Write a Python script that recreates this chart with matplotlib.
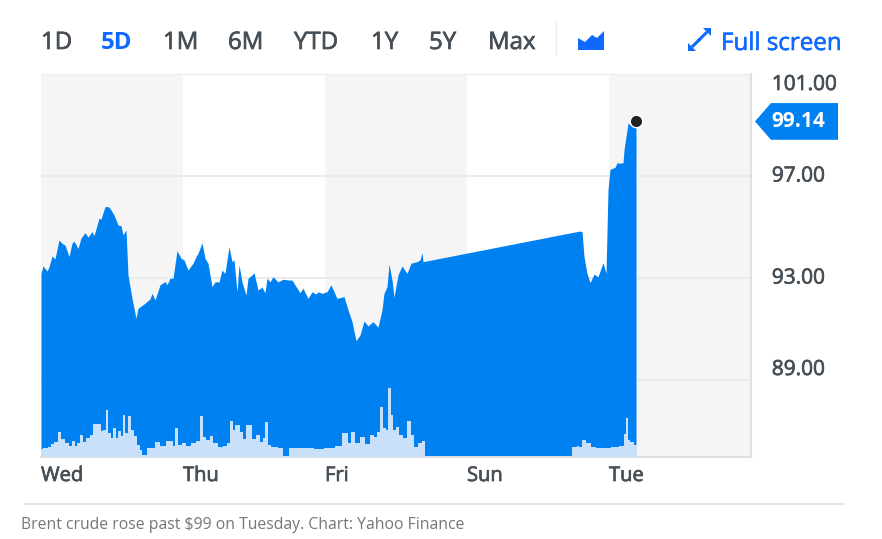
import matplotlib
matplotlib.use("Agg")
import matplotlib.pyplot as plt
import matplotlib.patheffects as pe
from matplotlib.patches import Polygon
from matplotlib.lines import Line2D
from matplotlib.transforms import blended_transform_factory

plt.rcParams["font.family"] = ["Open Sans", "DejaVu Sans"]

# x is a bar index, 142 bars per session
times = [0, 2, 6, 8, 11, 14, 18, 21, 24, 28, 31, 33, 37, 40, 44, 47, 51, 53, 58, 60,
         64, 67, 69, 73, 77, 80, 82, 85, 87, 91, 95, 97, 104, 109, 111, 114, 119, 124, 126, 129,
         132, 136, 140, 143, 147, 152, 155, 157, 161, 164, 167, 171, 174, 178, 181, 184, 188, 191, 193, 196,
         198, 201, 205, 207, 211, 213, 217, 221, 224, 226, 229, 232, 237, 242, 248, 251, 254, 259, 262, 267,
         271, 275, 277, 281, 286, 290, 296, 303, 307, 311, 315, 319, 323, 327, 332, 337, 341, 343, 346, 348,
         351, 353, 357, 361, 366, 370, 376, 379, 381, 382, 519, 532, 539, 541, 543, 546, 549, 553, 557, 562,
         565, 567, 569, 574, 576, 579, 582, 583, 587, 590, 595]
prices = [93.18, 93.48, 93.27, 93.44, 93.86, 93.75, 94.49, 94.36, 94.29, 93.84, 94.36, 94.45, 94.16, 94.56, 94.78, 94.60, 94.82, 94.66, 95.34, 95.31,
          95.80, 95.80, 95.73, 95.47, 95.08, 95.05, 94.69, 94.88, 93.12, 92.20, 91.42, 91.81, 92.01, 92.18, 92.40, 92.14, 92.73, 92.86, 92.73, 92.99,
          92.99, 94.07, 93.77, 93.71, 93.31, 93.58, 93.84, 93.97, 94.38, 93.77, 93.58, 92.66, 92.85, 92.85, 93.31, 93.18, 94.23, 93.64, 93.71, 92.46,
          93.51, 92.85, 92.33, 92.99, 93.12, 93.21, 92.53, 92.64, 92.42, 92.99, 92.85, 93.05, 92.85, 92.95, 92.92, 92.92, 92.73, 92.42, 92.60, 92.20,
          92.46, 92.37, 92.46, 92.40, 92.46, 92.73, 92.20, 92.27, 91.75, 91.29, 90.54, 90.76, 91.31, 91.12, 91.29, 91.07, 91.75, 92.40, 92.66, 93.55,
          92.92, 92.24, 93.12, 93.47, 93.18, 93.58, 93.64, 93.71, 93.99, 93.64, 94.69, 94.79, 94.84, 94.82, 93.84, 93.18, 92.82, 93.15, 93.05, 93.60,
          93.18, 96.45, 97.26, 97.34, 97.52, 97.50, 97.52, 98.02, 99.07, 99.00, 99.14]

# volume in thousand lots
vol_times = [0, 4, 9, 11, 15, 18, 21, 26, 29, 32, 35, 37, 41, 43, 47, 51, 53, 58, 61, 63,
             66, 68, 71, 73, 76, 78, 81, 83, 85, 88, 91, 94, 98, 100, 101, 105, 106, 111, 116, 122,
             128, 131, 133, 135, 138, 143, 147, 152, 157, 161, 163, 167, 170, 174, 179, 184, 187, 190, 193, 194,
             197, 200, 203, 206, 210, 212, 217, 221, 222, 226, 228, 232, 241, 242, 247, 248, 259, 269, 277, 289,
             299, 302, 306, 308, 312, 316, 321, 326, 331, 335, 337, 341, 343, 346, 348, 351, 353, 356, 359, 364,
             368, 371, 374, 379, 383, 384, 530, 531, 534, 537, 539, 543, 547, 552, 557, 566, 574, 581, 584, 586,
             587, 591, 595, 596]
volumes = [0.8, 0.9, 1.0, 1.3, 1.5, 2.5, 1.8, 1.4, 1.1, 1.6, 1.1, 1.4, 2.2, 1.5, 1.9, 2.2, 3.3, 3.3, 2.6, 2.7,
           4.7, 2.4, 1.9, 2.9, 1.9, 2.6, 2.1, 4.2, 2.4, 4.1, 2.7, 2.1, 1.2, 0.7, 0.15, 0.15, 0.9, 0.9, 1.5, 1.1,
           1.6, 1.6, 1.1, 2.9, 1.2, 1.4, 1.1, 1.4, 1.6, 4.1, 2.0, 1.7, 2.1, 1.4, 1.0, 1.1, 1.4, 3.6, 2.7, 3.2,
           3.2, 2.5, 1.8, 3.2, 3.2, 1.8, 2.2, 1.5, 1.9, 3.5, 1.2, 1.0, 0.9, 0.05, 0.05, 0.9, 0.9, 0.9, 0.8, 0.9,
           1.1, 2.4, 2.4, 1.4, 2.5, 1.4, 2.0, 1.3, 2.2, 2.0, 2.5, 5.0, 2.9, 2.7, 6.9, 4.2, 2.7, 3.0, 2.2, 1.9,
           3.6, 2.2, 1.0, 1.4, 1.6, 0, 0, 1.0, 1.0, 1.1, 1.0, 1.7, 1.4, 1.0, 0.9, 0.9, 1.0, 1.1, 2.3, 3.9,
           1.7, 1.5, 1.2, 0]

session_starts = [0, 142, 284, 426, 568]
session_labels = ["Wed", "Thu", "Fri", "Sun", "Tue"]
price_ticks = [89, 93, 97, 101]
price_labels = ["89.00", "93.00", "97.00", "101.00"]
ranges = ["1D", "5D", "1M", "6M", "YTD", "1Y", "5Y", "Max"]
range_x = [41, 101, 163, 228, 294, 371, 429, 488]

W, H = 882, 539
BLUE = "#0081f2"
UI_BLUE = "#0f69ff"
GREY = "#464e56"
heavy = [pe.withStroke(linewidth=0.5, foreground=GREY)]
heavy_blue = [pe.withStroke(linewidth=0.4, foreground=UI_BLUE)]

fig = plt.figure(figsize=(W / 100, H / 100), dpi=100)
ax = fig.add_axes([41 / W, (H - 457) / H, 710 / W, 383 / H])
ax.set_xlim(0, 710)
ax.set_ylim(85.98, 101)

# volume on its own hidden scale, made first so the price axis keeps its ticks
vax = ax.twinx()
vax.set_ylim(0, 38.3)
vax.fill_between(vol_times, volumes, 0, color="#c8e0f9", lw=0, step="mid", zorder=3)
vax.axis("off")

# alternating session bands
for s in session_starts[::2]:
    ax.axvspan(s, s + 142, color="#f5f5f5", lw=0, zorder=0)

ax.fill_between(times, prices, 85.98, color=BLUE, lw=0, zorder=2)

ax.yaxis.tick_right()
ax.set_yticks(price_ticks)
ax.set_yticklabels(price_labels)
ax.grid(axis="y", color="#ebebeb", lw=1.5, zorder=1)
ax.set_axisbelow(True)
ax.tick_params(axis="y", length=0, pad=15, labelsize=15, labelcolor=GREY)
for lab, va in zip(ax.get_yticklabels(), ["bottom", "center", "center", "top"]):
    lab.set_va(va)
    lab.set_path_effects(heavy)

ax.set_xticks(session_starts)
ax.set_xticklabels(session_labels, ha="left")
ax.tick_params(axis="x", length=0, pad=6.5, labelsize=14.5, labelcolor=GREY)
for lab in ax.get_xticklabels():
    lab.set_path_effects(heavy)

vax.plot(times[-1], 38.3 * (prices[-1] - 85.98) / (101 - 85.98), "o", ms=9, mfc="#222222",
         mec="white", mew=1, zorder=5, clip_on=False)

for spine_ax in [ax, vax]:
    for side in ["top", "left"]:
        spine_ax.spines[side].set_visible(False)
for side in ["right", "bottom"]:
    ax.spines[side].set_color("#e0e0e0")
    ax.spines[side].set_linewidth(1.5)


def px(x, y):
    return x / W, 1 - y / H


# toolbar
for lab, x in zip(ranges, range_x):
    on = lab == "5D"
    t = fig.text(*px(x, 49), lab, fontsize=17.3, color=UI_BLUE if on else GREY,
                 fontweight="bold" if on else "normal", va="baseline")
    if not on:
        t.set_path_effects(heavy)
t = fig.text(*px(721, 50), "Full screen", fontsize=17.4, color=UI_BLUE, va="baseline")
t.set_path_effects(heavy_blue)
fig.add_artist(Line2D([556 / W] * 2, [1 - 20 / H, 1 - 55 / H], color="#eeeeee", lw=1))

# area chart icon
icon = [(578, 50), (578, 38), (585, 42), (592, 35), (597, 38), (604, 31), (604, 50)]
fig.add_artist(Polygon([px(*p) for p in icon], closed=True, transform=fig.transFigure,
                       color=UI_BLUE, lw=0))

# full screen arrows
for tail, head in [((698, 41), (707, 32)), ((700, 39), (692, 47))]:
    fig.add_artist(Line2D([px(*tail)[0], px(*head)[0]], [px(*tail)[1], px(*head)[1]],
                          color=UI_BLUE, lw=2.2, solid_capstyle="butt"))
for corner in [[(703, 28), (711, 28), (711, 36)], [(688, 43), (688, 51), (696, 51)]]:
    fig.add_artist(Polygon([px(*p) for p in corner], closed=True, transform=fig.transFigure,
                           color=UI_BLUE, lw=0))

# last price tag
tag = blended_transform_factory(fig.transFigure, ax.transData)
last = prices[-1]
tag_shape = [(755 / W, last), (771 / W, last + 0.72), (838 / W, last + 0.72),
             (838 / W, last - 0.72), (771 / W, last - 0.72)]
fig.add_artist(Polygon(tag_shape, closed=True, transform=tag, color=BLUE, lw=0))
fig.text(771 / W, last, f"{last:.2f}", transform=tag, color="white", fontsize=15,
         fontweight="bold", va="center")

# caption
fig.add_artist(Line2D([25 / W, 844 / W], [1 - 504 / H] * 2, color="#e6e6e6", lw=1.5))
fig.text(*px(21, 529), "Brent crude rose past $99 on Tuesday. Chart: Yahoo Finance",
         fontsize=11.3, color="#777777", va="baseline")

fig.savefig("out.png", dpi=100)
